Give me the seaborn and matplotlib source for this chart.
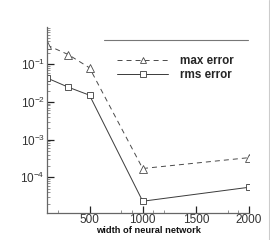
import matplotlib
matplotlib.use("Agg")
import matplotlib.pyplot as plt
import seaborn as sns
import pandas as pd
import numpy as np
from matplotlib.lines import Line2D
from matplotlib.ticker import FixedLocator, LogLocator, NullFormatter

width = [100, 300, 500, 1000, 2000]
max_error = [0.32, 0.18, 0.08, 1.7e-4, 3.3e-4]
rms_error = [0.043, 0.0245, 0.015, 2.3e-5, 5.4e-5]
series_names = ["max error", "rms error"]
x_label = "width of neural network"
x_ticks = [500, 1000, 1500, 2000]
x_minor = [200, 800, 900, 1100, 1200, 1800, 1900]

sns.set_style("white")
plt.rcParams["font.family"] = ["Liberation Sans", "DejaVu Sans"]
plt.rcParams["mathtext.fontset"] = "custom"
plt.rcParams["mathtext.rm"] = "Liberation Sans"
plt.rcParams["lines.scale_dashes"] = False

df = pd.DataFrame({
    "width": width * 2,
    "error": max_error + rms_error,
    "series": [series_names[0]] * len(width) + [series_names[1]] * len(width),
})

W, H = 270, 240
fig = plt.figure(figsize=(W / 100, H / 100), dpi=100)
ax = fig.add_axes([47 / W, 1 - 213 / H, (249 - 47) / W, (213 - 27) / H])

line_col = "#3a3a3a"
sns.lineplot(data=df[df.series == series_names[0]], x="width", y="error", ax=ax,
             color="#4a4a4a", linewidth=0.7, marker="^", markersize=5.5,
             markerfacecolor="white", markeredgecolor="#4a4a4a", markeredgewidth=0.6,
             dashes=False, legend=False)
ax.lines[-1].set_linestyle((0, (3.6, 2.9)))
sns.lineplot(data=df[df.series == series_names[1]], x="width", y="error", ax=ax,
             color=line_col, linewidth=0.7, marker="s", markersize=5,
             markerfacecolor="white", markeredgecolor=line_col, markeredgewidth=0.6,
             legend=False)

ax.set_yscale("log")
ax.set_xlim(100, 2000)
ax.set_ylim(1.12e-5, 0.97)

for s in ["top", "right"]:
    ax.spines[s].set_visible(False)
for s in ["left", "bottom"]:
    ax.spines[s].set_color("#666666")
    ax.spines[s].set_linewidth(0.9)

ax.xaxis.set_major_locator(FixedLocator(x_ticks))
ax.xaxis.set_minor_locator(FixedLocator(x_minor))
ax.yaxis.set_major_locator(LogLocator(base=10, numticks=10))
ax.yaxis.set_minor_locator(LogLocator(base=10, subs=np.arange(2, 10), numticks=10))
ax.yaxis.set_minor_formatter(NullFormatter())

ax.tick_params(axis="both", which="major", direction="in", length=5, width=0.9,
               color="#222222", labelsize=8.5, labelcolor="#333333", pad=1.5)
ax.tick_params(axis="both", which="minor", direction="in", length=2.5, width=0.5,
               color="#666666")
ax.tick_params(axis="x", which="major", pad=1)
ax.tick_params(left=True, bottom=True, which="both")

ax.set_xlabel(x_label, fontsize=6.7, fontweight="bold", labelpad=0, color="#111111")
ax.set_ylabel("")

handles = [
    Line2D([], [], color="#4a4a4a", linewidth=0.7, linestyle=(0, (3.6, 2.9)), marker="^",
           markersize=4.5, markerfacecolor="white", markeredgecolor="#4a4a4a", markeredgewidth=0.6),
    Line2D([], [], color=line_col, linewidth=0.7, marker="s",
           markersize=4, markerfacecolor="white", markeredgecolor=line_col, markeredgewidth=0.6),
]
leg = ax.legend(handles, series_names, loc="upper left",
                bbox_to_anchor=(117 / W, 1 - 55.5 / H), bbox_transform=fig.transFigure,
                frameon=False, prop={"size": 8.4, "weight": "bold"},
                handlelength=4.4, handletextpad=1.0, labelspacing=0.15,
                borderpad=0, borderaxespad=0)

fig.add_artist(Line2D([104 / W, 248 / W], [1 - 39.5 / H] * 2, transform=fig.transFigure,
                      color="#777777", linewidth=0.8))
fig.add_artist(Line2D([268.5 / W] * 2, [0, 1], transform=fig.transFigure,
                      color="#cccccc", linewidth=0.8))

fig.savefig("out.png", dpi=100)
